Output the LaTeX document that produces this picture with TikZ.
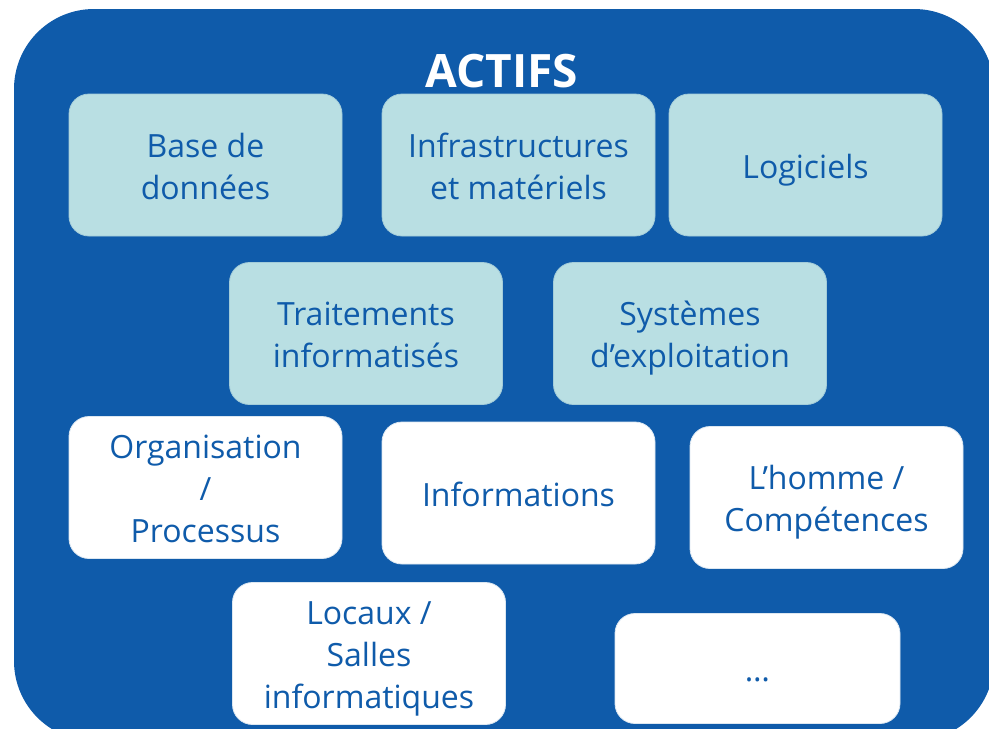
\documentclass[tikz,border=0pt]{standalone}
\usepackage{fontspec}
\setmainfont{Open Sans}
\usetikzlibrary{positioning}
\definecolor{actifblue}{HTML}{0F5BAA}
\definecolor{palecyan}{HTML}{B9DFE3}
\definecolor{paleedge}{HTML}{A3CCD9}
\definecolor{whiteedge}{HTML}{DCE7F1}
\newcommand\ls{\rule[-8pt]{0pt}{42pt}} % every line gets the same height and depth
\tikzset{
x=1pt,y=-1pt, % one unit is one point, y runs downwards
every node/.style={font=\fontsize{32}{42}\selectfont,text=actifblue,align=center},
on grid
}

\begin{document}
\begin{tikzpicture}[asset/.style={rectangle, rounded corners=20pt, minimum width=273pt, minimum height=142pt, inner sep=0pt, line width=0.8pt},
   itasset/.style={asset, fill=palecyan, draw=paleedge},
   orgasset/.style={asset, fill=white, draw=whiteedge}]
   \useasboundingbox (0,0) rectangle (989,729);
   \fill[actifblue, rounded corners=80pt] (14,9) rectangle (994,741);
   \node (actifs) [anchor=base, text=white, font=\fontsize{46}{50}\selectfont\bfseries] at (502,87) {ACTIFS};
   % IT assets
   \node[itasset] (bdd) at (205.5,165) {\ls Base de\\\ls données};
   \node[itasset] (infra) [right=313pt of bdd] {\ls Infrastructures\\\ls et matériels};
   \node[itasset] (logi)  [right=287pt of infra] {\ls Logiciels};
   \node[itasset] (trait) [below right=168.5pt and 160.5pt of bdd] {\ls Traitements\\\ls informatisés};
   \node[itasset] (sys)   [right=324pt of trait] {\ls Systèmes\\\ls d’exploitation};
   % organisation and people
   \node[orgasset] (orga)   [below=322.5pt of bdd] {\ls Organisation\\\ls /\\\ls Processus};
   \node[orgasset] (info)   [below=328pt of infra] {\ls Informations};
   \node[orgasset] (homme)  [below right=332.5pt and 21pt of logi] {\ls L’homme /\\\ls Compétences};
   \node[orgasset] (locaux) [below right=320pt and 3pt of trait] {\ls Locaux /\\\ls Salles\\\ls informatiques};
   \node[orgasset, minimum width=285pt, minimum height=110pt] (autres) [below right=335pt and 67.5pt of sys] {\ls …};
\end{tikzpicture}
\end{document}
